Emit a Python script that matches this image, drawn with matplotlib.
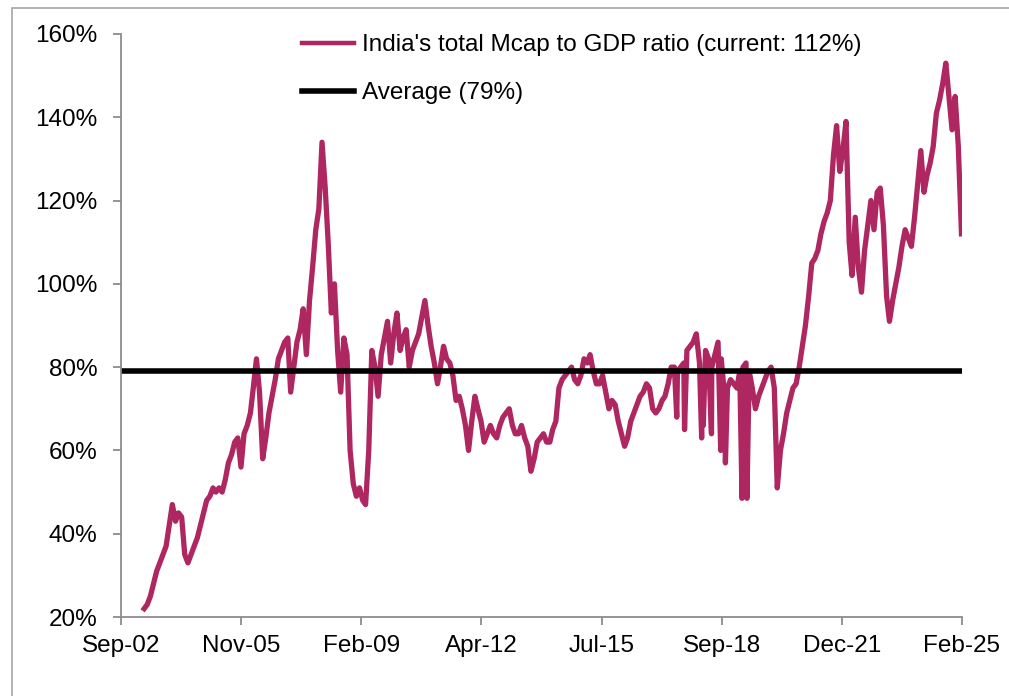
import matplotlib
matplotlib.use("Agg")
import matplotlib.pyplot as plt
import matplotlib.dates as mdates
from matplotlib.patches import Rectangle
import numpy as np
import pandas as pd

plt.rcParams['font.family'] = ['Liberation Sans', 'DejaVu Sans']

# Month-end-ish readings of India's total Mcap / GDP (%), Apr-2003 .. Feb-2025
vals_2003 = [22, 23, 25, 28, 31, 33, 35, 37, 42]  # Apr-Dec
vals_2004 = [47, 43, 45, 44, 35, 33, 35, 37, 39, 42, 45, 48]
vals_2005 = [49, 51, 50, 51, 50, 53, 57, 59, 62, 63, 56, 64]
vals_2006 = [66, 69, 75, 82, 74, 58, 63, 69, 73, 77, 82, 84]
vals_2007 = [86, 87, 74, 80, 86, 89, 94, 83, 96, 104, 113, 118]
vals_2008 = [134, 123, 110, 93, 100, 84, 74, 87, 83, 60, 52, 49]
vals_2009 = [51, 48, 47, 60, 84, 80, 73, 83, 87, 91, 81, 88]
vals_2010 = [93, 84, 87, 89, 80, 84, 86, 88, 92, 96, 90, 85]
vals_2011 = [81, 76, 80, 85, 82, 81, 78, 72, 73, 70, 66, 60]
vals_2012 = [67, 73, 70, 67, 62, 64, 66, 64, 63, 66, 68, 69]
vals_2013 = [70, 66, 64, 64, 66, 63, 61, 55, 58, 62, 63, 64]
vals_2014 = [62, 62, 65, 67, 75, 77, 78, 79, 80, 77, 76, 78]
vals_2015 = [82, 81, 83, 79, 76, 76, 78, 74, 70, 72, 71, 67]
vals_2016 = [64, 61, 63, 67, 69, 71, 73, 74, 76, 75, 70, 69]
vals_2017 = [70, 72, 73, 76, 80, 80, 79, 80, 81, 84, 85, 86]
vals_2018 = [88, 81, 79, 84, 82, 80, 83, 86, 82, 74, 75, 77]
vals_2019 = [76, 75, 79, 80, 81, 79, 75, 70, 73, 75, 77, 79]
vals_2020 = [80, 75, 51, 60, 64, 69, 72, 75, 76, 80, 85, 90]
vals_2021 = [97, 105, 106, 108, 112, 115, 117, 120, 131, 138, 127, 132]
vals_2022 = [139, 110, 102, 116, 104, 98, 108, 114, 120, 113, 122, 123]
vals_2023 = [114, 97, 91, 96, 100, 104, 109, 113, 111, 109, 116, 124]
vals_2024 = [132, 122, 126, 129, 133, 141, 144, 148, 153, 145, 137, 145]
vals_2025 = [133, 112]  # Jan-Feb

# single-day dips visible in the series
spike_dates = ["2017-07-08", "2017-09-22", "2018-03-08", "2018-03-24", "2018-06-12",
               "2018-09-10", "2018-10-26", "2019-04-06", "2019-05-24"]
spike_vals = [68, 65, 63, 66, 64, 60, 57, 48.5, 48.5]

average = 79
series_label = "India's total Mcap to GDP ratio (current: 112%)"
average_label = "Average (79%)"

x_start = "2002-09-01"
x_end = "2025-02-20"
x_tick_labels = ["Sep-02", "Nov-05", "Feb-09", "Apr-12", "Jul-15", "Sep-18", "Dec-21", "Feb-25"]
y_ticks = [20, 40, 60, 80, 100, 120, 140, 160]
y_tick_labels = ["20%", "40%", "60%", "80%", "100%", "120%", "140%", "160%"]

monthly = (vals_2003 + vals_2004 + vals_2005 + vals_2006 + vals_2007 + vals_2008 + vals_2009
           + vals_2010 + vals_2011 + vals_2012 + vals_2013 + vals_2014 + vals_2015 + vals_2016
           + vals_2017 + vals_2018 + vals_2019 + vals_2020 + vals_2021 + vals_2022 + vals_2023
           + vals_2024 + vals_2025)
month_idx = pd.date_range("2003-04-01", periods=len(monthly), freq="MS") + pd.Timedelta(days=14)
s = pd.concat([pd.Series(monthly, index=month_idx),
               pd.Series(spike_vals, index=pd.to_datetime(spike_dates))]).sort_index()

W, H = 1009, 696
fig = plt.figure(figsize=(W / 100, H / 100), dpi=100)
ax = fig.add_axes([121 / W, 1 - 617 / H, (962 - 121) / W, (617 - 34) / H])

pink = "#AE2760"
ax.plot(s.index, s.values, color=pink, lw=3.8, solid_joinstyle="round", label=series_label)
xs = pd.to_datetime([x_start, x_end])
ax.plot(xs, [average, average], color="black", lw=4, label=average_label)

x0, x1 = mdates.date2num(xs[0]), mdates.date2num(xs[1])
ax.set_xlim(x0, x1)
ax.set_ylim(20, 160)
ax.set_xticks(np.linspace(x0, x1, len(x_tick_labels)))
ax.set_xticklabels(x_tick_labels)
ax.set_yticks(y_ticks)
ax.set_yticklabels(y_tick_labels)

for side in ["top", "right"]:
    ax.spines[side].set_visible(False)
for side in ["left", "bottom"]:
    ax.spines[side].set_color("#8C8C8C")
    ax.spines[side].set_linewidth(1.3)
ax.tick_params(axis="both", direction="out", length=6, width=1.3, color="#8C8C8C",
               labelsize=17.5, labelcolor="black")
ax.tick_params(axis="y", pad=11)
ax.tick_params(axis="x", pad=7)

leg = ax.legend(loc="upper left", bbox_to_anchor=(302 / W, 1 - 34 / H), bbox_transform=fig.transFigure,
                frameon=False, fontsize=17.5, borderpad=0, borderaxespad=0,
                handlelength=2.15, handletextpad=0.3, labelspacing=1.07)
leg.get_lines()[0].set_linewidth(3.2)

# light outer frame (only top and left edges fall inside the picture)
fig.patches.append(Rectangle((12 / W, -0.1), 1.2, 1.1 - 8 / H, transform=fig.transFigure,
                             fill=False, edgecolor="#A6A6A6", lw=1.2))

fig.savefig("out.png", dpi=100)
